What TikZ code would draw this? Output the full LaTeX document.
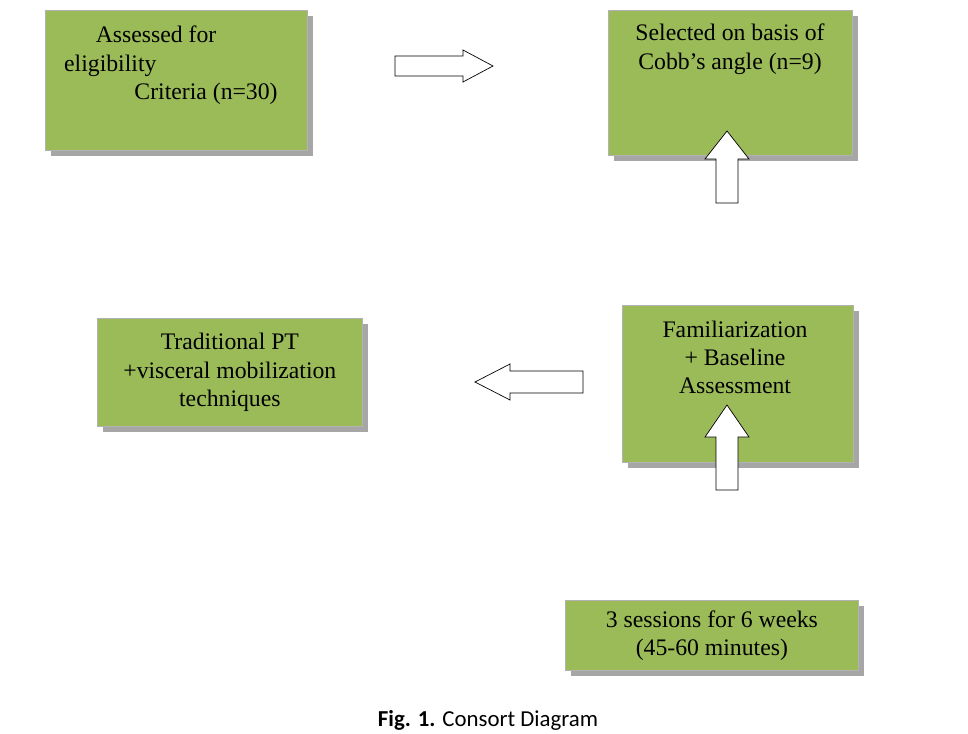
\documentclass[tikz,border=0pt]{standalone}
\usepackage{fontspec}
\setmainfont{Liberation Serif}
\newfontfamily\capfont{Carlito}
\usetikzlibrary{shadows}
\definecolor{boxgreen}{HTML}{9BBB59}
\tikzset{
  stepbox/.style={fill=boxgreen, draw=gray!60, anchor=north west, inner sep=0pt,
    font=\fontsize{13.5}{16}\selectfont, align=center,
    drop shadow={shadow xshift=3pt, shadow yshift=-3pt, fill=gray!70, opacity=1}},
  boxtext/.style={anchor=north, font=\fontsize{13.5}{16}\selectfont, align=center},
  blockarrow/.style={draw=black, fill=white, thin}
}
% block arrow pointing along +x from the origin: length, shaft half width, head half width, head length
\newcommand\blockarr[4]{\path[blockarrow] (0,-#2) -- (#1-#4,-#2) -- (#1-#4,-#3) -- (#1,0) -- (#1-#4,#3) -- (#1-#4,#2) -- (0,#2) -- cycle;}
\begin{document}
\begin{tikzpicture}[x=0.02cm,y=-0.02cm]
\useasboundingbox (0,0) rectangle (968,734);

% Boxes
\node[stepbox, minimum width=262*0.02cm, minimum height=140*0.02cm] (assess) at (45,10) {};
\node[anchor=north west, font=\fontsize{13.5}{16}\selectfont, align=left] at (58,20)
  {\hspace*{18pt}Assessed for\\eligibility\\\hspace*{40pt}Criteria (n=30)};
\node[stepbox, minimum width=244*0.02cm, minimum height=145*0.02cm] (select) at (608,10) {};
\node[boxtext] at (730,18) {Selected on basis of\\Cobb's angle (n=9)};
\node[stepbox, minimum width=231*0.02cm, minimum height=157*0.02cm] (famil) at (622,305) {};
\node[boxtext] at (735,315) {Familiarization\\+ Baseline\\Assessment};
\node[stepbox, minimum width=265*0.02cm, minimum height=108*0.02cm] (trad) at (97,318)
  {Traditional PT\\+visceral mobilization\\techniques};
\node[stepbox, minimum width=293*0.02cm, minimum height=70*0.02cm] (sess) at (565,600)
  {3 sessions for 6 weeks\\(45-60 minutes)};

% Block arrows
\begin{scope}[shift={(395,66)}]\blockarr{98}{10}{16}{30}\end{scope}
\begin{scope}[shift={(727,203)}, rotate=90]\blockarr{72}{11}{22}{28}\end{scope}
\begin{scope}[shift={(583,382)}, rotate=180]\blockarr{108}{11}{18}{35}\end{scope}
\begin{scope}[shift={(727,490)}, rotate=90]\blockarr{85}{11}{22}{32}\end{scope}

% Caption
\node[font=\capfont\fontsize{13}{15}\selectfont] (cap) at (488,720) {\textbf{Fig. 1.} Consort Diagram};
\end{tikzpicture}
\end{document}
